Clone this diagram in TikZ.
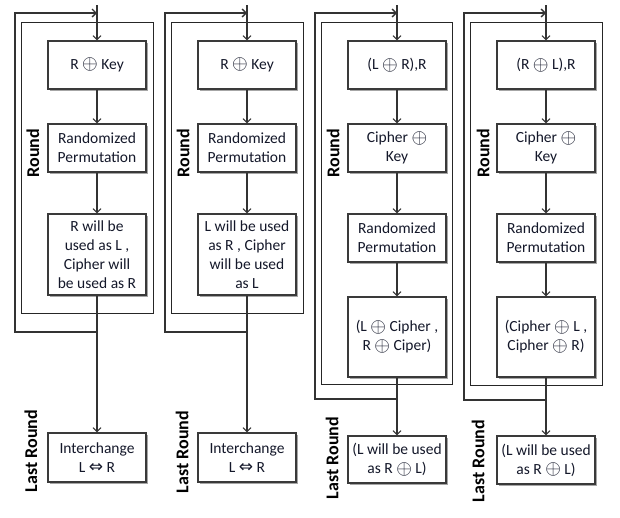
\documentclass[tikz,border=0pt]{standalone}
\usepackage{fix-cm}
\usepackage{fontspec}
\setmainfont{Carlito}
\newfontfamily\symg[Scale=1.1]{DejaVu Sans}
\usetikzlibrary{arrows.meta,shadows}
\newcommand{\xo}{\raisebox{-0.6pt}{\scalebox{1.3}{$\oplus$}}}
\newcommand{\lr}{{\symg ⇔}}
\definecolor{lncol}{HTML}{333333}
\definecolor{boxcol}{HTML}{3A3A3A}
\definecolor{txtcol}{HTML}{14182A}
\begin{document}
\begin{tikzpicture}[x=1pt,y=-1pt,
  box/.style={draw=boxcol, line width=1.1pt, fill=white, minimum width=98pt, minimum height=48pt,
    inner sep=1pt, align=center, text=txtcol, font=\fontsize{15.5}{19}\selectfont,
    drop shadow={shadow xshift=2pt, shadow yshift=-2pt, fill=black, opacity=0.35}},
  ln/.style={draw=lncol, line width=1.1pt},
  arr/.style={-{Straight Barb[length=4pt,width=8pt]}},
  roundrect/.style={draw=black!85, line width=1pt},
  looprect/.style={draw=lncol, line width=1.3pt},
  lbl/.style={font=\bfseries\fontsize{18}{18}\selectfont, rotate=90, inner sep=0pt}]
\useasboundingbox (0,0) rectangle (620,517);
\fill[white] (0,0) rectangle (620,517);

% ---------- Column 1 ----------
\draw[roundrect] (21,22) rectangle (153,313);
\coordinate (a0) at (97,5);
\coordinate (at) at (97,13);
\coordinate (al) at (97,332);
\node[box] (a1) at (97,65) {R \xo{} Key};
\node[box] (a2) at (97,148) {Randomized\\Permutation};
\node[box, minimum height=81pt] (a3) at (97,254.5) {R will be\\used as L ,\\Cipher will\\be used as R};
\node[box, minimum height=49pt] (a4) at (97,457.5) {Interchange\\L \lr{} R};
\draw[ln,arr] (a0) -- (a1);
\draw[ln,arr] (a1) -- (a2);
\draw[ln,arr] (a2) -- (a3);
\draw[ln,arr] (a3) -- (a4);
\draw[looprect,arr] (al) -| (15,13) -- (at);
\node[lbl] (ar) at (33,153) {Round};
\node[lbl] (alr) at (31,451) {Last Round};

% ---------- Column 2 ----------
\draw[roundrect] (171,22) rectangle (303,313);
\coordinate (b0) at (247,5);
\coordinate (bt) at (247,13);
\coordinate (bl) at (247,332);
\node[box] (b1) at (247,65) {R \xo{} Key};
\node[box] (b2) at (247,148) {Randomized\\Permutation};
\node[box, minimum height=81pt] (b3) at (247,254.5) {L will be used\\as R , Cipher\\will be used\\as L};
\node[box, minimum height=49pt] (b4) at (247,457.5) {Interchange\\L \lr{} R};
\draw[ln,arr] (b0) -- (b1);
\draw[ln,arr] (b1) -- (b2);
\draw[ln,arr] (b2) -- (b3);
\draw[ln,arr] (b3) -- (b4);
\draw[looprect,arr] (bl) -| (165,13) -- (bt);
\node[lbl] (br) at (183,153) {Round};
\node[lbl] (blr) at (182,452) {Last Round};

% ---------- Column 3 ----------
\draw[roundrect] (321,22) rectangle (452,384);
\coordinate (c0) at (397,5);
\coordinate (ct) at (397,13);
\coordinate (cl) at (397,399);
\node[box] (c1) at (397,65) {(L \xo{} R),R};
\node[box] (c2) at (397,148) {Cipher \xo\\Key};
\node[box] (c3) at (397,238) {Randomized\\Permutation};
\node[box, minimum height=80pt] (c4) at (397,337) {(L \xo{} Cipher ,\\R \xo{} Ciper)};
\node[box, minimum height=47pt] (c5) at (397,459.5) {(L will be used\\as R \xo{} L)};
\draw[ln,arr] (c0) -- (c1);
\draw[ln,arr] (c1) -- (c2);
\draw[ln,arr] (c2) -- (c3);
\draw[ln,arr] (c3) -- (c4);
\draw[ln,arr] (c4) -- (c5);
\draw[looprect,arr] (cl) -| (315,13) -- (ct);
\node[lbl] (cr) at (333,153) {Round};
\node[lbl] (clr) at (332,458) {Last Round};

% ---------- Column 4 ----------
\draw[roundrect] (470,22) rectangle (602,385);
\coordinate (d0) at (546,5);
\coordinate (dt) at (546,13);
\coordinate (dl) at (546,400);
\node[box] (d1) at (546,65) {(R \xo{} L),R};
\node[box] (d2) at (546,148) {Cipher \xo\\Key};
\node[box] (d3) at (546,238) {Randomized\\Permutation};
\node[box, minimum height=80pt] (d4) at (546,337) {(Cipher \xo{} L ,\\Cipher \xo{} R)};
\node[box, minimum height=48pt] (d5) at (546,460) {(L will be used\\as R \xo{} L)};
\draw[ln,arr] (d0) -- (d1);
\draw[ln,arr] (d1) -- (d2);
\draw[ln,arr] (d2) -- (d3);
\draw[ln,arr] (d3) -- (d4);
\draw[ln,arr] (d4) -- (d5);
\draw[looprect,arr] (dl) -| (464,13) -- (dt);
\node[lbl] (dr) at (483,153) {Round};
\node[lbl] (dlr) at (478,461) {Last Round};
\end{tikzpicture}
\end{document}
